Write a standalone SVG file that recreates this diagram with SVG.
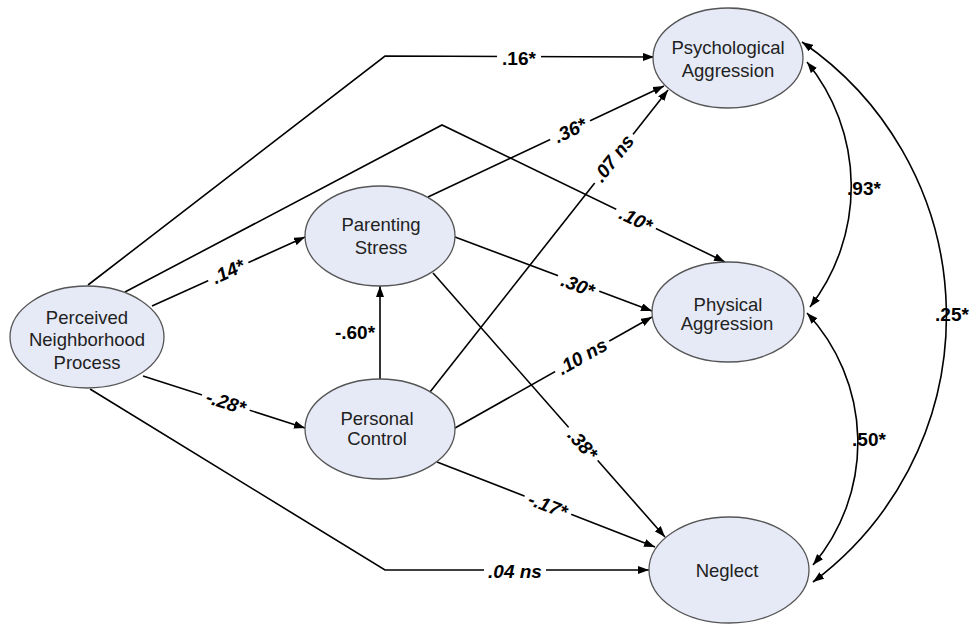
<svg xmlns="http://www.w3.org/2000/svg" width="970" height="625" viewBox="0 0 970 625">
<defs>
<marker id="ah" markerUnits="userSpaceOnUse" markerWidth="12" markerHeight="8" refX="11" refY="4" orient="auto-start-reverse">
<path d="M0,0 L11,4 L0,8 z" fill="#000"/>
</marker>
<style>
.node ellipse{fill:#e6eaf7;stroke:#555;stroke-width:1.3}
.node text{font-family:"Liberation Sans",Arial,sans-serif;font-size:18.5px;fill:#222;text-anchor:middle}
.edge{fill:none;stroke:#000;stroke-width:1.6}
.arr{marker-end:url(#ah)}
.dbl{marker-start:url(#ah);marker-end:url(#ah)}
.lbl{font-family:"Liberation Sans",Arial,sans-serif;font-size:19px;font-weight:bold;fill:#000;text-anchor:middle}
.it{font-style:italic}
.bg{fill:#fff}
</style>
</defs>
<rect width="970" height="625" fill="#fff"/>
<g id="connectors">
<polyline class="edge arr" points="88,285 385,56 654,57"/>
<polyline class="edge arr" points="125,292 442,125 725,262"/>
<line class="edge arr" x1="152" y1="306" x2="305" y2="237"/>
<line class="edge arr" x1="143" y1="376" x2="305" y2="428"/>
<polyline class="edge arr" points="90,389 385,570 649,570"/>
<line class="edge arr" x1="380" y1="379" x2="380" y2="286"/>
<line class="edge arr" x1="428" y1="197" x2="664" y2="86"/>
<line class="edge arr" x1="430" y1="392" x2="668" y2="90"/>
<line class="edge arr" x1="455" y1="237" x2="652" y2="311"/>
<line class="edge arr" x1="433" y1="273" x2="665" y2="537"/>
<line class="edge arr" x1="455" y1="428" x2="652" y2="317"/>
<line class="edge arr" x1="437" y1="462" x2="655" y2="547"/>
<path class="edge dbl" d="M807,62 A197,197 0 0 1 810,307"/>
<path class="edge dbl" d="M807,313 A190,190 0 0 1 813,565"/>
<path class="edge dbl" d="M802,42 A332,332 0 0 1 813,582"/>
<g transform="translate(519,58)"><rect class="bg" x="-22" y="-9" width="44" height="18"/><text class="lbl" y="7">.16*</text></g>
<g transform="translate(636,219) rotate(25.8)"><rect class="bg" x="-22" y="-9" width="44" height="18"/><text class="lbl it" y="7">.10*</text></g>
<g transform="translate(228,271) rotate(-24.6)"><rect class="bg" x="-22" y="-9" width="44" height="18"/><text class="lbl it" y="7">.14*</text></g>
<g transform="translate(226,402) rotate(17.8)"><rect class="bg" x="-25" y="-9" width="50" height="18"/><text class="lbl it" y="7">-.28*</text></g>
<g transform="translate(515,571)"><rect class="bg" x="-31" y="-9" width="62" height="18"/><text class="lbl it" y="7">.04 ns</text></g>
<text class="lbl" x="355" y="339">-.60*</text>
<g transform="translate(570,130) rotate(-25)"><rect class="bg" x="-22" y="-9" width="44" height="18"/><text class="lbl it" y="7">.36*</text></g>
<g transform="translate(613,158) rotate(-51.9)"><rect class="bg" x="-31" y="-9" width="62" height="18"/><text class="lbl it" y="7">.07 ns</text></g>
<g transform="translate(578,285) rotate(21.6)"><rect class="bg" x="-22" y="-9" width="44" height="18"/><text class="lbl it" y="7">.30*</text></g>
<g transform="translate(583,444) rotate(48.7)"><rect class="bg" x="-22" y="-9" width="44" height="18"/><text class="lbl it" y="7">.38*</text></g>
<g transform="translate(582,356) rotate(-29.6)"><rect class="bg" x="-31" y="-9" width="62" height="18"/><text class="lbl it" y="7">.10 ns</text></g>
<g transform="translate(548,505) rotate(21.3)"><rect class="bg" x="-25" y="-9" width="50" height="18"/><text class="lbl it" y="7">-.17*</text></g>
<text class="lbl" x="864" y="195">.93*</text>
<text class="lbl" x="869" y="446">.50*</text>
<text class="lbl" x="952" y="321">.25*</text>
</g>
<g id="pnp" class="node">
<ellipse cx="87" cy="337" rx="77" ry="51"/>
<text x="87" y="324">Perceived</text>
<text x="87" y="346">Neighborhood</text>
<text x="87" y="369">Process</text>
</g>
<g id="parenting-stress" class="node">
<ellipse cx="380" cy="236" rx="75" ry="50"/>
<text x="381" y="231">Parenting</text>
<text x="381" y="254">Stress</text>
</g>
<g id="personal-control" class="node">
<ellipse cx="380" cy="429" rx="75" ry="50"/>
<text x="377" y="425">Personal</text>
<text x="377" y="445">Control</text>
</g>
<g id="psych-agg" class="node">
<ellipse cx="728" cy="58" rx="75" ry="50"/>
<text x="728" y="54">Psychological</text>
<text x="728" y="77">Aggression</text>
</g>
<g id="phys-agg" class="node">
<ellipse cx="728" cy="312" rx="76" ry="50"/>
<text x="728" y="311">Physical</text>
<text x="727" y="330">Aggression</text>
</g>
<g id="neglect" class="node">
<ellipse cx="729" cy="570" rx="80" ry="53"/>
<text x="727" y="577">Neglect</text>
</g>
</svg>
